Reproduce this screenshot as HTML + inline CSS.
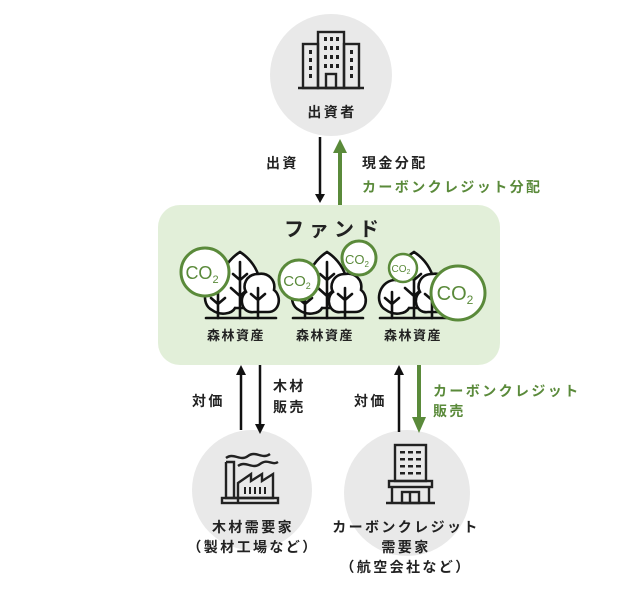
<!DOCTYPE html>
<html><head><meta charset="utf-8"><style>
html,body{margin:0;padding:0;background:#fff;}
svg{display:block;}
text{font-family:"Liberation Sans","Noto Sans CJK JP",sans-serif;font-weight:bold;}
.l{font-size:14px;letter-spacing:2.4px;}
</style></head><body>
<svg width="635" height="601" viewBox="0 0 635 601" xmlns="http://www.w3.org/2000/svg">
<defs>
<g id="trees" fill="none" stroke="#111" stroke-width="2.6" stroke-linecap="round">
  <path d="M0 0 C-22 14 -26 42 -14 56 L14 56 C26 42 22 14 0 0Z" fill="#fff"/>
  <path d="M0 10 V66 M0 28 l-7 -6 M0 28 l7 -6 M0 44 l-9 -8 M0 44 l9 -8"/>
  <path d="M-20 28 C-36 30 -40 52 -28 58 C-20 64 -8 62 -5 56" fill="#fff"/>
  <path d="M-22 40 V66 M-22 52 l-7 -6 M-22 52 l7 -6"/>
  <path d="M18 22 C6 22 2 34 6 40 C-2 46 2 62 14 60 L28 60 C40 60 42 44 34 38 C36 28 28 20 18 22Z" fill="#fff"/>
  <path d="M18 36 V66 M18 48 l-7 -6 M18 48 l7 -6"/>
  <path d="M-34 66 H36"/>
</g>
</defs>
<!-- top circle -->
<circle cx="331" cy="75" r="61" fill="#e9e9e9"/>
<g fill="none" stroke="#222" stroke-width="2.4">
  <rect x="318" y="32" width="26" height="56"/>
  <rect x="303" y="44" width="15" height="44"/>
  <rect x="344" y="44" width="15" height="44"/>
  <rect x="326" y="74" width="10" height="14"/>
  <path d="M298 88 H364"/>
</g>
<g fill="#222">
  <rect x="324" y="37" width="3" height="4"/><rect x="330" y="37" width="3" height="4"/><rect x="336" y="37" width="3" height="4"/>
  <rect x="324" y="46" width="3" height="4"/><rect x="330" y="46" width="3" height="4"/><rect x="336" y="46" width="3" height="4"/>
  <rect x="324" y="55" width="3" height="4"/><rect x="330" y="55" width="3" height="4"/><rect x="336" y="55" width="3" height="4"/>
  <rect x="324" y="64" width="3" height="4"/><rect x="330" y="64" width="3" height="4"/><rect x="336" y="64" width="3" height="4"/>
  <rect x="309" y="50" width="3" height="4"/><rect x="309" y="58" width="3" height="4"/><rect x="309" y="66" width="3" height="4"/><rect x="309" y="74" width="3" height="4"/>
  <rect x="350" y="50" width="3" height="4"/><rect x="350" y="58" width="3" height="4"/><rect x="350" y="66" width="3" height="4"/><rect x="350" y="74" width="3" height="4"/>
</g>
<text x="332" y="117" class="l" text-anchor="middle" fill="#222">出資者</text>

<!-- top arrows -->
<line x1="320" y1="137" x2="320" y2="195" stroke="#111" stroke-width="2.5"/>
<polygon points="315,194 325,194 320,203" fill="#111"/>
<line x1="340" y1="152" x2="340" y2="206" stroke="#5a8a3a" stroke-width="4"/>
<polygon points="333,153 347,153 340,139" fill="#5a8a3a"/>
<text x="266" y="168" class="l" fill="#222">出資</text>
<text x="362" y="168" class="l" fill="#222">現金分配</text>
<text x="362" y="192" class="l" fill="#5a8a3a">カーボンクレジット分配</text>

<!-- fund box -->
<rect x="158" y="205" width="342" height="160" rx="22" fill="#e2efd9"/>
<text x="334" y="236" font-size="20" text-anchor="middle" fill="#222" letter-spacing="5">ファンド</text>

<use href="#trees" x="240" y="252"/>
<use href="#trees" x="327" y="252"/>
<use href="#trees" x="414" y="252"/>

<g stroke="#5a8a3a" fill="#fff">
  <circle cx="205" cy="272" r="24" stroke-width="3"/>
  <circle cx="299" cy="280" r="20" stroke-width="3"/>
  <circle cx="359" cy="258" r="17" stroke-width="3"/>
  <circle cx="403" cy="268" r="14" stroke-width="2.5"/>
  <circle cx="458" cy="293" r="27" stroke-width="3"/>
</g>
<g fill="#5a8a3a">
  <text x="202" y="279" font-size="18" text-anchor="middle" style="font-weight:normal">CO<tspan font-size="11" dy="4">2</tspan></text>
  <text x="297" y="286" font-size="15" text-anchor="middle" style="font-weight:normal">CO<tspan font-size="9" dy="3">2</tspan></text>
  <text x="357" y="264" font-size="13" text-anchor="middle" style="font-weight:normal">CO<tspan font-size="8" dy="3">2</tspan></text>
  <text x="401" y="272" font-size="10" text-anchor="middle" style="font-weight:normal">CO<tspan font-size="7" dy="2">2</tspan></text>
  <text x="455" y="300" font-size="20" text-anchor="middle" style="font-weight:normal">CO<tspan font-size="12" dy="4">2</tspan></text>
</g>
<text x="236" y="340" font-size="13" letter-spacing="1.5" text-anchor="middle" fill="#222">森林資産</text>
<text x="325" y="340" font-size="13" letter-spacing="1.5" text-anchor="middle" fill="#222">森林資産</text>
<text x="413" y="340" font-size="13" letter-spacing="1.5" text-anchor="middle" fill="#222">森林資産</text>

<!-- bottom circles -->
<circle cx="252" cy="490" r="60" fill="#e9e9e9"/>
<circle cx="407" cy="493" r="63" fill="#e9e9e9"/>

<!-- bottom arrows -->
<line x1="241" y1="374" x2="241" y2="430" stroke="#111" stroke-width="2.5"/>
<polygon points="236,375 246,375 241,365" fill="#111"/>
<line x1="260" y1="365" x2="260" y2="425" stroke="#111" stroke-width="2.5"/>
<polygon points="255,424 265,424 260,434" fill="#111"/>
<line x1="399" y1="374" x2="399" y2="432" stroke="#111" stroke-width="2.5"/>
<polygon points="394,375 404,375 399,365" fill="#111"/>
<line x1="419" y1="365" x2="419" y2="418" stroke="#5a8a3a" stroke-width="4"/>
<polygon points="412,417 426,417 419,433" fill="#5a8a3a"/>
<text x="192" y="406" class="l" fill="#222">対価</text>
<text x="273" y="391" class="l" fill="#222">木材</text>
<text x="273" y="412" class="l" fill="#222">販売</text>
<text x="354" y="406" class="l" fill="#222">対価</text>
<text x="433" y="396" class="l" fill="#5a8a3a">カーボンクレジット</text>
<text x="433" y="416" class="l" fill="#5a8a3a">販売</text>

<!-- factory -->
<g fill="none" stroke="#222" stroke-width="2.4">
  <path d="M226 458 C234 452 240 462 248 456 C256 450 262 460 270 454"/>
  <path d="M238 466 C246 460 252 470 260 464 C268 458 272 466 278 462"/>
  <path d="M226 462 V498 H273 V474 L262 481 V474 L251 481 V474 L238 483 V504"/>
  <rect x="222" y="498" width="56" height="5"/>
  <path d="M226 462 H234 V498"/>
</g>
<g fill="#222">
  <rect x="244" y="487" width="2" height="7"/><rect x="249" y="487" width="2" height="7"/><rect x="254" y="487" width="2" height="7"/><rect x="259" y="487" width="2" height="7"/><rect x="264" y="487" width="2" height="7"/>
</g>
<text x="253" y="532" class="l" text-anchor="middle" fill="#222">木材需要家</text>
<text x="253" y="552" class="l" text-anchor="middle" fill="#222">（製材工場など）</text>

<!-- office -->
<g fill="none" stroke="#222" stroke-width="2.4">
  <rect x="395" y="445" width="31" height="36"/>
  <rect x="389" y="481" width="43" height="6"/>
  <path d="M392 487 V503 M429 487 V503 M386 503 H435"/>
  <rect x="402" y="492" width="17" height="11"/>
  <path d="M410 492 V503"/>
</g>
<g fill="#222">
  <rect x="400" y="451" width="5" height="2.5"/><rect x="408" y="451" width="5" height="2.5"/><rect x="416" y="451" width="5" height="2.5"/>
  <rect x="400" y="458" width="5" height="2.5"/><rect x="408" y="458" width="5" height="2.5"/><rect x="416" y="458" width="5" height="2.5"/>
  <rect x="400" y="465" width="5" height="2.5"/><rect x="408" y="465" width="5" height="2.5"/><rect x="416" y="465" width="5" height="2.5"/>
  <rect x="400" y="472" width="5" height="2.5"/><rect x="408" y="472" width="5" height="2.5"/><rect x="416" y="472" width="5" height="2.5"/>
</g>
<text x="406" y="532" class="l" text-anchor="middle" fill="#222">カーボンクレジット</text>
<text x="406" y="552" class="l" text-anchor="middle" fill="#222">需要家</text>
<text x="406" y="572" class="l" text-anchor="middle" fill="#222">（航空会社など）</text>
</svg>
</body></html>
